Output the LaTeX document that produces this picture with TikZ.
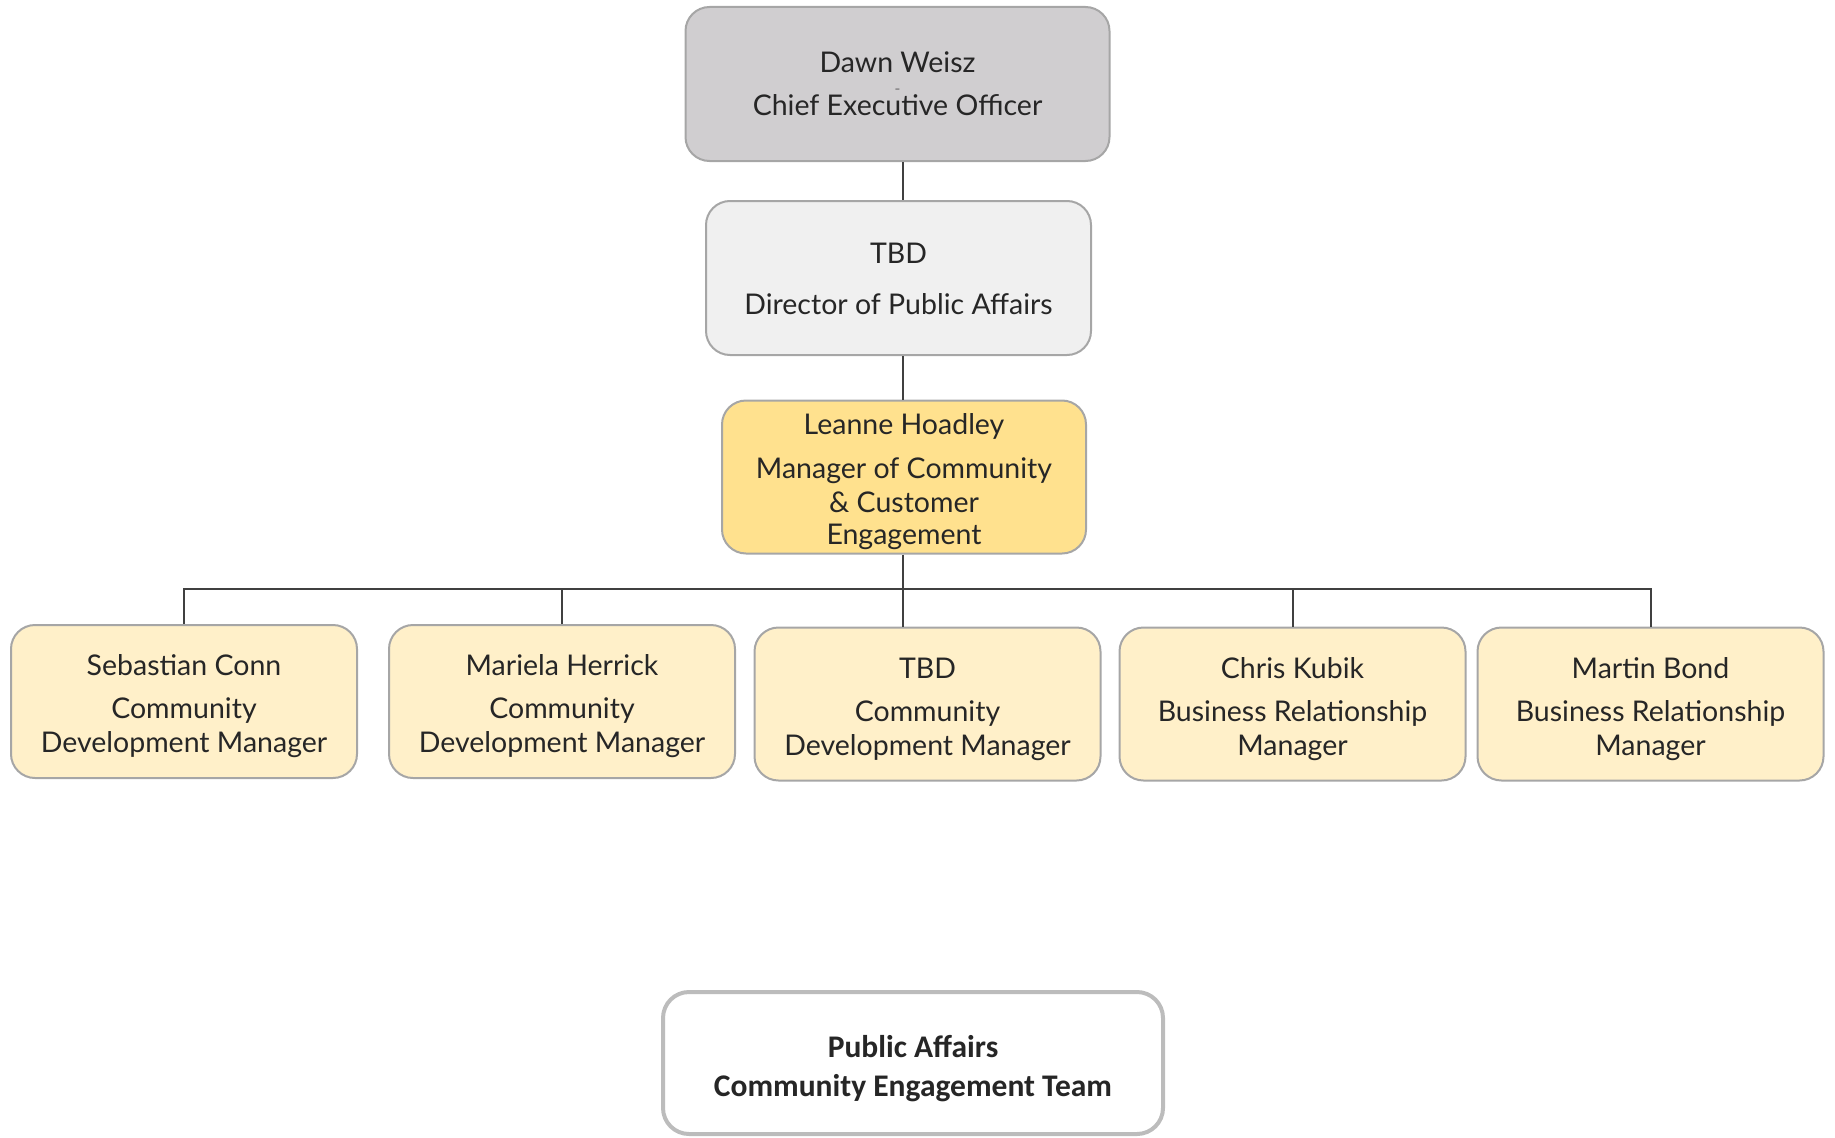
\documentclass[tikz,border=0pt]{standalone}
\usepackage{fontspec}
\setmainfont{Lato}
\newfontfamily\teamfont{Carlito}
\definecolor{txt}{HTML}{262626}
\definecolor{edge}{HTML}{A6A6A6}
\definecolor{wire}{HTML}{404040}
\definecolor{ceofill}{HTML}{D0CED0}
\definecolor{dirfill}{HTML}{F0F0F0}
\definecolor{mgrfill}{HTML}{FFE18E}
\definecolor{stafffill}{HTML}{FFF0C9}
% taller first line, pushes a block of text a little lower in its box
\newcommand{\toplift}[1]{\rule{0pt}{#1}}
\begin{document}
\begin{tikzpicture}[x=1pt,y=-1pt,
  orgbox/.style={draw=edge,line width=2pt,rounded corners=24pt,inner sep=0pt,
    align=center,text=txt,font=\fontsize{28.5}{35}\selectfont},
  staffbox/.style={orgbox,fill=stafffill,minimum width=346pt,minimum height=153pt},
  wireline/.style={draw=wire,line width=2pt}]
\useasboundingbox (0,0) rectangle (1835,1137);

% top of the chain
\node[orgbox,fill=ceofill,minimum width=424pt,minimum height=154pt] (ceo) at (897.5,84)
  {Dawn Weisz\\[-15pt]{\fontsize{10}{10}\selectfont --}\\[-12pt]Chief Executive Officer};
\node[orgbox,fill=dirfill,minimum width=385pt,minimum height=154pt] (dir) at (898.5,278)
  {\toplift{23pt}TBD\\[16pt]Director of Public Affairs};
\node[orgbox,fill=mgrfill,minimum width=364pt,minimum height=153pt] (mgr) at (904,477)
  {\toplift{30pt}Leanne Hoadley\\[9pt]Manager of Community\\[-1pt]\& Customer\\[-3pt]Engagement};

% staff row
\node[staffbox] (s1) at (184,701.5) {\toplift{31pt}Sebastian Conn\\[8pt]Community\\[-1pt]Development Manager};
\node[staffbox] (s2) at (562,701.5) {\toplift{31pt}Mariela Herrick\\[8pt]Community\\[-1pt]Development Manager};
\node[staffbox] (s3) at (927.5,704) {\toplift{31pt}TBD\\[8pt]Community\\[-1pt]Development Manager};
\node[staffbox] (s4) at (1292.5,704) {\toplift{31pt}Chris Kubik\\[8pt]Business Relationship\\[-1pt]Manager};
\node[staffbox] (s5) at (1650.5,704) {\toplift{31pt}Martin Bond\\[8pt]Business Relationship\\[-1pt]Manager};

% team caption
\node[draw=edge!75,line width=4pt,rounded corners=26pt,fill=white,
  minimum width=500pt,minimum height=142pt,align=center,text=txt,
  font=\teamfont\bfseries\fontsize{31.5}{39}\selectfont] (team) at (913,1063)
  {\toplift{33pt}Public Affairs\\Community Engagement Team};

% reporting lines
\coordinate (bus) at (903,589);
\draw[wireline] (ceo.south -| 903,0) -- (dir.north -| 903,0);
\draw[wireline] (dir.south -| 903,0) -- (mgr.north -| 903,0);
\draw[wireline] (mgr.south -| 903,0) -- (bus);
\draw[wireline] (bus) -- (s3.north -| bus);
\draw[wireline] (s1.north) |- (bus) -| (s5.north);
\draw[wireline] (s2.north) -- (s2.north |- bus);
\draw[wireline] (s4.north) -- (s4.north |- bus);
\end{tikzpicture}
\end{document}
